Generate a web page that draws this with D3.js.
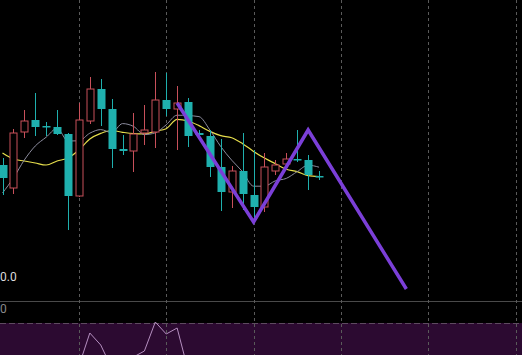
<!DOCTYPE html>
<html><head><meta charset="utf-8">
<script src="https://cdn.jsdelivr.net/npm/d3@7"></script>
<style>html,body{margin:0;padding:0;background:#000;overflow:hidden}</style>
</head><body><div id="chart"></div>
<script>
// candle index (0..29 visible data), grid every 8 bars
const openP  = [21.1,18.8,24.4,25.6,25.0,24.9,24.2,18.0,25.5,28.7,26.7,22.7,22.5,24.3,24.4,27.6,26.7,27.4,24.3,24.0,20.9,18.4,20.5,18.1,16.9,20.5,21.2,21.7,21.6,20.0];
const highP  = [21.8,24.7,26.6,28.3,25.4,26.6,24.3,27.3,29.9,29.7,27.7,24.1,26.3,27.1,30.4,30.3,29.0,27.8,24.6,24.6,23.7,21.0,24.3,22.6,22.3,21.6,22.3,24.6,22.1,20.5];
const lowP   = [18.1,18.2,23.8,24.0,24.0,24.1,14.6,17.9,25.2,25.0,20.8,22.1,20.4,23.1,22.8,26.0,22.6,22.9,23.8,19.9,16.5,16.8,16.6,15.4,16.4,20.1,20.9,21.4,18.6,19.6];
const closeP = [19.8,24.3,25.5,24.9,24.9,24.2,18.0,25.6,28.7,26.7,22.7,22.5,24.2,24.6,27.6,26.7,27.3,24.0,24.1,20.9,18.4,20.5,18.2,16.9,20.9,21.1,21.7,21.6,20.1,19.9];
const ma5  = [18.3,19.8,21.6,23.0,23.88,24.76,23.5,23.52,24.28,24.64,24.34,25.24,24.96,24.14,24.32,25.12,26.08,26.04,25.94,24.6,22.94,21.58,20.42,18.98,18.98,19.52,19.76,20.44,21.08,20.88];
const ma10 = [22.3,21.7,21.5,21.3,21.1,21.5,21.8,22.6,23.7,24.26,24.55,24.37,24.24,24.21,24.48,24.73,25.66,25.5,25.04,24.46,24.03,23.83,23.23,22.46,21.79,21.23,20.67,20.43,20.03,19.93];
const zigIdx = [16,23,28,37];
const zigVal = [27.3,15.4,24.6,8.7];
const indicator = [0,0,0,0,0,0,0,14,47,35,12,8,23,29,58,46,52,10,0,0,0,0,0,0,0,0,0,0,0,0];
const gridIdx = [7,15,23,31,39,47];
const priceLabel = "0.0";
const lowLabel = "0";

const W = 522, H = 355;
const svg = d3.select("#chart").append("svg").attr("width", W).attr("height", H)
  .style("display","block").style("background","#000");

const x = d3.scaleLinear().domain([0,47]).range([2.5,515.5]);
const y = d3.scaleLinear().domain([37.6,10]).range([0,276]);
const yLow = d3.scaleLinear().domain([0,80]).range([380,300]);

// lower panel background
svg.append("rect").attr("x",0).attr("y",323).attr("width",W).attr("height",H-323).attr("fill","#2c0a31");
svg.append("line").attr("x1",0).attr("x2",W).attr("y1",301.5).attr("y2",301.5).attr("stroke","#4a4a4a").attr("stroke-width",1);
svg.append("line").attr("x1",0).attr("x2",W).attr("y1",323.5).attr("y2",323.5).attr("stroke","#5e4a60").attr("stroke-width",1).attr("stroke-dasharray","6,3");

// vertical grid
svg.selectAll("line.grid").data(gridIdx).join("line").attr("class","grid")
  .attr("x1",d=>Math.round(x(d))+0.5).attr("x2",d=>Math.round(x(d))+0.5)
  .attr("y1",0).attr("y2",H).attr("stroke","#5a5a5a").attr("stroke-width",1).attr("stroke-dasharray","3,3");

// labels
svg.append("text").attr("x",0).attr("y",281).text(priceLabel)
  .attr("fill","#dcdcdc").attr("font-size","12px").attr("font-family","Roboto, 'Liberation Sans', sans-serif");
svg.append("text").attr("x",0).attr("y",313).text(lowLabel)
  .attr("fill","#8a8a8a").attr("font-size","12px").attr("font-family","Roboto, 'Liberation Sans', sans-serif");

// indicator line
const idxs = d3.range(indicator.length);
svg.append("path").datum(idxs)
  .attr("d", d3.line().x(i=>x(i)).y(i=>yLow(indicator[i])))
  .attr("fill","none").attr("stroke","#b58fc0").attr("stroke-width",1);

// moving averages
const ma = d3.line().x(i=>x(i)).curve(d3.curveMonotoneX);
svg.append("path").datum(idxs).attr("d", ma.y(i=>y(ma10[i])))
  .attr("fill","none").attr("stroke","#e6de4c").attr("stroke-width",1.2);
svg.append("path").datum(idxs).attr("d", ma.y(i=>y(ma5[i])))
  .attr("fill","none").attr("stroke","#8c8c9e").attr("stroke-width",1);

// candles
const teal = "#1fb0ae", red = "#c8505a";
const bw = 7;
const g = svg.append("g");
idxs.forEach(i=>{
  const up = closeP[i] >= openP[i];
  const col = up ? red : teal;
  const cx = Math.round(x(i)) + 0.5;
  g.append("line").attr("x1",cx).attr("x2",cx).attr("y1",y(highP[i])).attr("y2",y(lowP[i]))
    .attr("stroke",col).attr("stroke-width",1);
  const top = y(Math.max(openP[i],closeP[i])), bot = y(Math.min(openP[i],closeP[i]));
  const h = Math.max(bot-top, 1.5);
  if (up) {
    g.append("rect").attr("x",cx-bw/2).attr("y",top).attr("width",bw).attr("height",h)
      .attr("fill","#000").attr("stroke",red).attr("stroke-width",1);
  } else {
    g.append("rect").attr("x",cx-bw/2-0.5).attr("y",top).attr("width",bw+1).attr("height",h)
      .attr("fill",teal);
  }
});

// zigzag
svg.append("path").datum(d3.range(zigIdx.length))
  .attr("d", d3.line().x(k=>x(zigIdx[k])).y(k=>y(zigVal[k])))
  .attr("fill","none").attr("stroke","#7b3fd8").attr("stroke-width",3.5)
  .attr("stroke-linejoin","miter");
</script></body></html>
